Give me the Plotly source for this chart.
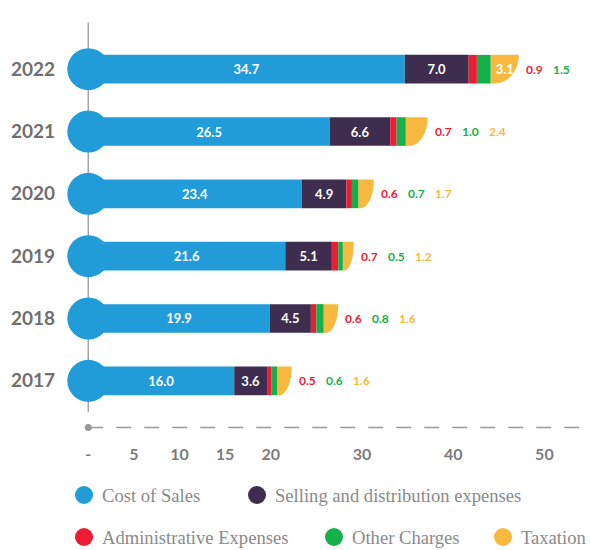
import plotly.graph_objects as go

# ---------------- data ----------------
years = [2017, 2018, 2019, 2020, 2021, 2022]
cost_of_sales = [16.0, 19.9, 21.6, 23.4, 26.5, 34.7]
selling_distribution = [3.6, 4.5, 5.1, 4.9, 6.6, 7.0]
administrative = [0.5, 0.6, 0.7, 0.6, 0.7, 0.9]
other_charges = [0.6, 0.8, 0.5, 0.7, 1.0, 1.5]
taxation = [1.6, 1.6, 1.2, 1.7, 2.4, 3.1]

series_names = ["Cost of Sales", "Selling and distribution expenses",
                "Administrative Expenses", "Other Charges", "Taxation"]
series_values = [cost_of_sales, selling_distribution, administrative, other_charges, taxation]
series_colors = ["#219cd8", "#3e2d4f", "#ec1c35", "#13b04b", "#f9b83e"]

x_tick_values = [0, 5, 10, 15, 20, 30, 40, 50]
x_tick_labels = ["-", "5", "10", "15", "20", "30", "40", "50"]

# ---------------- layout constants ----------------
W, H = 590, 550
ML, MR, MT, MB = 60, 0, 10, 110
PLOT_W = W - ML - MR
PLOT_H = H - MT - MB
X_MIN, X_MAX = -3.1, 55.0
Y_MIN, Y_MAX = years[0] - 0.95, years[-1] + 0.95
PX_PER_UNIT = PLOT_W / (X_MAX - X_MIN)
BAR_W = 0.46
GRAY = "#7b7b7b"
LABEL_FONT = dict(family="Lato", size=13, color="white", weight="bold")


def label_px(txt):
    return len(txt) * 7 + 3


def px_to_paper_x(px):
    return (px - ML) / PLOT_W


def px_to_paper_y(py):
    return (MT + PLOT_H - py) / PLOT_H


fig = go.Figure()

# stacked bars (taxation drawn as transparent bar; its rounded shape is a path below)
starts = [0.0] * len(years)
tax_starts = None
for name, vals, col in zip(series_names, series_values, series_colors):
    texts = []
    for v in vals:
        t = f"{v:.1f}"
        texts.append(t if v * PX_PER_UNIT >= label_px(t) + 4 else "")
    is_tax = name == "Taxation"
    if is_tax:
        tax_starts = list(starts)
    fig.add_trace(go.Bar(
        y=years, x=vals, base=starts, orientation="h", width=BAR_W,
        marker=dict(color="rgba(0,0,0,0)" if is_tax else col, line=dict(width=0)),
        text=texts, textposition="inside", insidetextanchor="middle",
        textangle=0, constraintext="none", insidetextfont=LABEL_FONT,
        name=name, showlegend=False, hoverinfo="x+y+name",
    ))
    starts = [s + v for s, v in zip(starts, vals)]
totals = starts

# rounded (bottom-right) taxation segment
shapes = []
k = 0.5523
for y, x0, v in zip(years, tax_starts, taxation):
    x1 = x0 + v
    top, bot = y + BAR_W / 2, y - BAR_W / 2
    rx = min(0.85 * v, 24 / PX_PER_UNIT)
    path = (f"M {x0},{bot} L {x0},{top} L {x1},{top} "
            f"C {x1},{top - k * (top - bot)} {x1 - rx + k * rx},{bot} {x1 - rx},{bot} Z")
    shapes.append(dict(type="path", path=path, xref="x", yref="y",
                       fillcolor=series_colors[4], line=dict(width=0), layer="below"))

# vertical guide line and dashed baseline
base_y = years[0] - 0.75
shapes.append(dict(type="line", xref="x", yref="y", x0=0, x1=0,
                   y0=years[0] - 0.5, y1=years[-1] + 0.75,
                   line=dict(color="#a5a5a5", width=1.5), layer="below"))
shapes.append(dict(type="line", xref="x", yref="y", x0=0, x1=X_MAX,
                   y0=base_y, y1=base_y,
                   line=dict(color="#9a9a9a", width=1.5, dash="15px,13px"), layer="below"))

# labels that do not fit inside their segment: placed after the bar end, in segment colour
annotations = []
for i, y in enumerate(years):
    shift = 5
    for name, vals, col in zip(series_names, series_values, series_colors):
        t = f"{vals[i]:.1f}"
        if vals[i] * PX_PER_UNIT >= label_px(t) + 4:
            continue
        annotations.append(dict(x=totals[i], y=y, xref="x", yref="y", text=t,
                                showarrow=False, xanchor="left", yanchor="middle",
                                xshift=shift,
                                font=dict(family="Lato", size=12, color=col, weight="bold")))
        shift += label_px(t) + 3

# circles at the start of each bar
fig.add_trace(go.Scatter(x=[0] * len(years), y=years, mode="markers",
                         marker=dict(size=42, color=series_colors[0]),
                         cliponaxis=False, hoverinfo="skip", showlegend=False))
fig.add_trace(go.Scatter(x=[0], y=[base_y], mode="markers",
                         marker=dict(size=7, color="#999999"),
                         cliponaxis=False, hoverinfo="skip", showlegend=False))

# legend drawn as circle shapes + text (two rows, as in the reference)
legend_centers = [(84, 495), (257, 495), (84, 537), (334, 537), (503, 537)]
for name, col, (cx, cy) in zip(series_names, series_colors, legend_centers):
    shapes.append(dict(type="circle", xref="paper", yref="paper",
                       xsizemode="pixel", ysizemode="pixel",
                       xanchor=px_to_paper_x(cx), yanchor=px_to_paper_y(cy),
                       x0=-9, x1=9, y0=-9, y1=9,
                       fillcolor=col, line=dict(width=0)))
    annotations.append(dict(x=px_to_paper_x(cx + 16), y=px_to_paper_y(cy),
                            xref="paper", yref="paper", text=name, showarrow=False,
                            xanchor="left", yanchor="middle",
                            font=dict(family="Liberation Serif", size=18.6, color="#8a8a8a")))

fig.update_layout(
    width=W, height=H, margin=dict(l=ML, r=MR, t=MT, b=MB, autoexpand=False),
    paper_bgcolor="white", plot_bgcolor="white",
    barmode="overlay", showlegend=False,
    shapes=shapes, annotations=annotations,
    xaxis=dict(range=[X_MIN, X_MAX], showgrid=False, zeroline=False, showline=False,
               tickvals=x_tick_values, ticktext=x_tick_labels, ticks="",
               ticklabelstandoff=3,
               tickfont=dict(family="Lato", size=16, color=GRAY, weight="bold"),
               fixedrange=True),
    yaxis=dict(range=[Y_MIN, Y_MAX], showgrid=False, zeroline=False, showline=False,
               tickvals=years, ticktext=[str(y) for y in years], ticks="",
               ticklabelstandoff=4,
               tickfont=dict(family="Lato", size=19, color="#6f6f6f", weight="bold"),
               fixedrange=True),
)

fig.write_html("out.html")
